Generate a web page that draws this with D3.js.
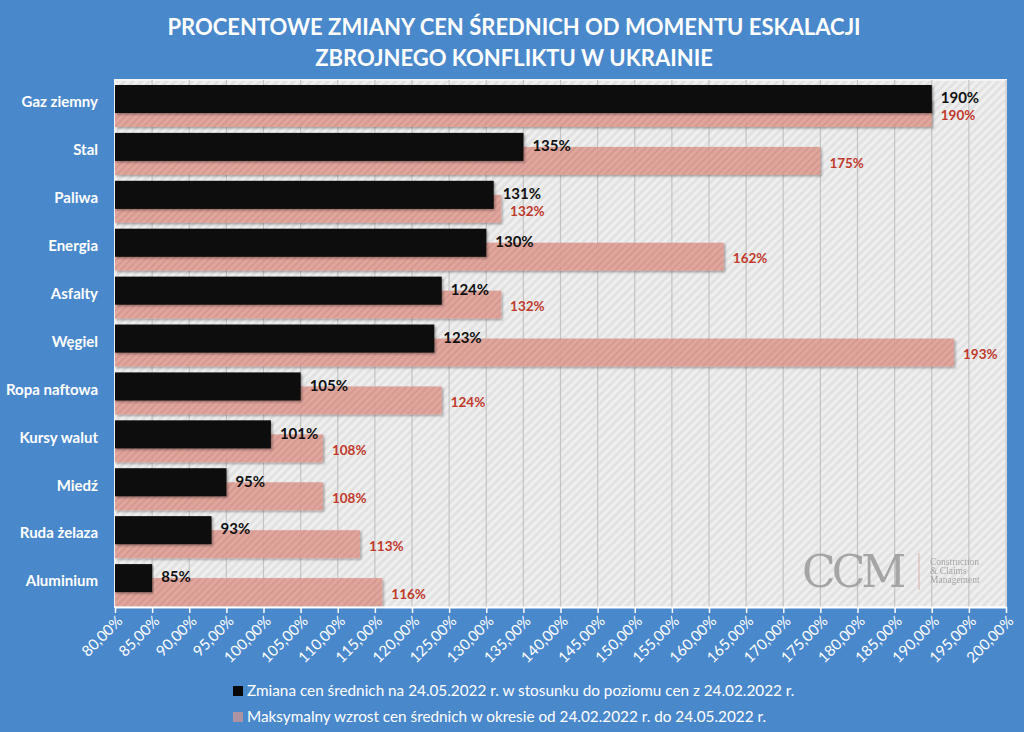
<!DOCTYPE html>
<html>
<head>
<meta charset="utf-8">
<script src="https://cdn.jsdelivr.net/npm/d3@7"></script>
<style>
  body { margin: 0; background: #4a88cc; }
  svg { display: block; font-family: Lato, "Open Sans", sans-serif; }
</style>
</head>
<body>
<div id="chart"></div>
<script>
var categories = ["Gaz ziemny", "Stal", "Paliwa", "Energia ", "Asfalty", "Węgiel",
    "Ropa naftowa", "Kursy walut", "Miedź", "Ruda żelaza", "Aluminium"];
var current = [190, 135, 131, 130, 124, 123, 105, 101, 95, 93, 85];
var maximum = [190, 175, 132, 162, 132, 193, 124, 108, 108, 113, 116];
var tickValues = d3.range(80, 201, 5);
var titleLines = ["PROCENTOWE ZMIANY CEN ŚREDNICH OD MOMENTU ESKALACJI",
    "ZBROJNEGO KONFLIKTU W UKRAINIE"];
var legendLabels = [
    "Zmiana cen średnich na 24.05.2022 r. w stosunku do poziomu cen z 24.02.2022 r.",
    "Maksymalny wzrost cen średnich w okresie od 24.02.2022 r. do 24.05.2022 r."
];

var W = 1024, H = 732;
var plot = {left: 115, right: 1006, top: 80, bottom: 607};

var svg = d3.select("#chart").append("svg")
    .attr("width", W)
    .attr("height", H);

var defs = svg.append("defs");

// hatch for plot background
var bgPat = defs.append("pattern")
    .attr("id", "bgHatch")
    .attr("width", 6).attr("height", 6)
    .attr("patternUnits", "userSpaceOnUse")
    .attr("patternTransform", "rotate(45)");
bgPat.append("rect").attr("width", 6).attr("height", 6).attr("fill", "#efefef");
bgPat.append("rect").attr("width", 3).attr("height", 6).attr("fill", "#e2e2e2");

// hatch for pink bars
var pinkPat = defs.append("pattern")
    .attr("id", "pinkHatch")
    .attr("width", 5).attr("height", 5)
    .attr("patternUnits", "userSpaceOnUse")
    .attr("patternTransform", "rotate(45)");
pinkPat.append("rect").attr("width", 5).attr("height", 5).attr("fill", "#dfa197");
pinkPat.append("rect").attr("width", 2).attr("height", 5).attr("fill", "#d6928a");

var shadow = defs.append("filter").attr("id", "shadow")
    .attr("x", "-5%").attr("y", "-20%").attr("width", "110%").attr("height", "150%");
shadow.append("feDropShadow")
    .attr("dx", 1.5).attr("dy", 1.5).attr("stdDeviation", 1.2)
    .attr("flood-color", "#000").attr("flood-opacity", 0.35);

// background
svg.append("rect").attr("width", W).attr("height", H).attr("fill", "#4a88cc");

// title
svg.append("g").selectAll("text")
    .data(titleLines)
    .join("text")
    .attr("x", 514)
    .attr("y", function (d, i) { return 35 + i * 31; })
    .attr("text-anchor", "middle")
    .attr("fill", "#fff")
    .attr("font-size", 22)
    .attr("font-weight", "bold")
    .text(function (d) { return d; });

var x = d3.scaleLinear().domain([80, 200]).range([plot.left, plot.right]);
var y = d3.scaleBand().domain(categories).range([plot.top, plot.bottom]);

// plot area
svg.append("rect")
    .attr("x", plot.left).attr("y", plot.top)
    .attr("width", plot.right - plot.left)
    .attr("height", plot.bottom - plot.top)
    .attr("fill", "url(#bgHatch)")
    .attr("stroke", "#f4f4f4")
    .attr("stroke-width", 2);

// gridlines
svg.append("g").selectAll("line")
    .data(tickValues.slice(1))
    .join("line")
    .attr("x1", function (d) { return x(d); })
    .attr("x2", function (d) { return x(d); })
    .attr("y1", plot.top)
    .attr("y2", plot.bottom)
    .attr("stroke", "#c4c4c4")
    .attr("stroke-width", 1.2);

// watermark
var wm = svg.append("g").attr("fill", "#9a9a9a").attr("opacity", 0.85);
wm.append("text")
    .attr("x", 802).attr("y", 587)
    .attr("font-family", "'DejaVu Serif', 'Liberation Serif', serif")
    .attr("font-size", 44)
    .attr("letter-spacing", -4)
    .text("CCM");
wm.append("line")
    .attr("x1", 919).attr("x2", 919).attr("y1", 553).attr("y2", 590)
    .attr("stroke", "#d0a8a0").attr("stroke-width", 1);
wm.selectAll("text.small")
    .data(["Construction", "& Claims", "Management"])
    .join("text")
    .attr("class", "small")
    .attr("x", 930)
    .attr("y", function (d, i) { return 565 + i * 9; })
    .attr("font-family", "'Liberation Serif', serif")
    .attr("font-size", 9.5)
    .text(function (d) { return d; });

// pink bars (maximum)
svg.append("g").selectAll("rect")
    .data(maximum)
    .join("rect")
    .attr("x", x(80))
    .attr("y", function (d, i) { return y(categories[i]) + 19; })
    .attr("width", function (d) { return x(d) - x(80); })
    .attr("height", 28)
    .attr("fill", "url(#pinkHatch)")
    .attr("opacity", 0.92)
    .attr("filter", "url(#shadow)");

// black bars (current)
svg.append("g").selectAll("rect")
    .data(current)
    .join("rect")
    .attr("x", x(80))
    .attr("y", function (d, i) { return y(categories[i]) + 5; })
    .attr("width", function (d) { return x(d) - x(80); })
    .attr("height", 28)
    .attr("fill", "#080808")
    .attr("filter", "url(#shadow)");

// value labels
svg.append("g").selectAll("text")
    .data(current)
    .join("text")
    .attr("x", function (d) { return x(d) + 9; })
    .attr("y", function (d, i) { return y(categories[i]) + 18; })
    .attr("dy", "0.35em")
    .attr("fill", "#111")
    .attr("font-size", 15)
    .attr("font-weight", "bold")
    .text(function (d) { return d + "%"; });

svg.append("g").selectAll("text")
    .data(maximum)
    .join("text")
    .attr("x", function (d) { return x(d) + 9; })
    .attr("y", function (d, i) { return y(categories[i]) + 35; })
    .attr("dy", "0.35em")
    .attr("fill", "#c0392b")
    .attr("font-size", 13.5)
    .attr("font-weight", "bold")
    .text(function (d) { return d + "%"; });

// category labels
svg.append("g").selectAll("text")
    .data(categories)
    .join("text")
    .attr("x", 98)
    .attr("y", function (d) { return y(d) + 22; })
    .attr("dy", "0.35em")
    .attr("text-anchor", "end")
    .attr("fill", "#fff")
    .attr("font-size", 15)
    .attr("font-weight", "bold")
    .text(function (d) { return d; });

// x axis
var fmt = function (d) { return d3.format(".2f")(d).replace(".", ",") + "%"; };
var xAxis = svg.append("g")
    .attr("transform", "translate(0," + plot.bottom + ")")
    .call(d3.axisBottom(x).tickValues(tickValues).tickFormat(fmt).tickSize(6).tickSizeOuter(0));
xAxis.select(".domain").attr("stroke", "#fff").attr("stroke-width", 2);
xAxis.selectAll(".tick line").attr("stroke", "#fff").attr("stroke-width", 1.5);
xAxis.selectAll(".tick text")
    .attr("fill", "#fff")
    .attr("font-size", 15)
    .attr("font-family", "Lato, sans-serif")
    .attr("text-anchor", "end")
    .attr("dy", null)
    .attr("y", null)
    .attr("transform", "translate(8,15) rotate(-45)");

// legend
var legend = svg.append("g").selectAll("g")
    .data(legendLabels)
    .join("g")
    .attr("transform", function (d, i) { return "translate(233," + (691 + i * 26) + ")"; });
legend.append("rect")
    .attr("x", 0).attr("y", -5)
    .attr("width", 10).attr("height", 10)
    .attr("fill", function (d, i) { return i === 0 ? "#080808" : "#d99a92"; })
    .attr("opacity", function (d, i) { return i === 0 ? 1 : 0.7; });
legend.append("text")
    .attr("x", 14)
    .attr("dy", "0.35em")
    .attr("fill", "#fff")
    .attr("font-size", 15.3)
    .text(function (d) { return d; });
</script>
</body>
</html>
